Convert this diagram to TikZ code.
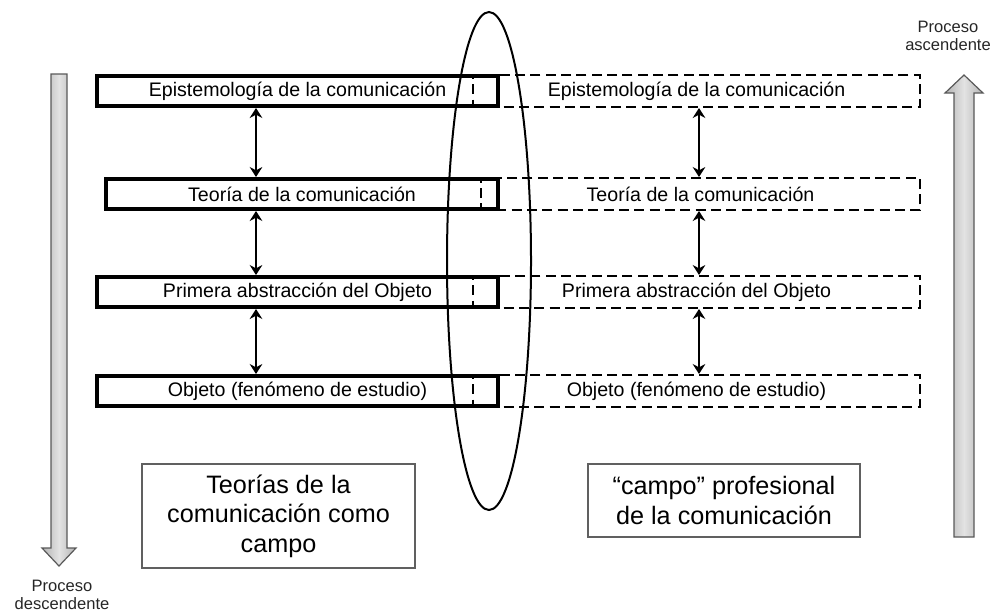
\documentclass[tikz,border=0pt]{standalone}
\usepackage{fontspec}
\setmainfont{Liberation Sans}
\usetikzlibrary{positioning, arrows.meta, calc}

\tikzset{
  solidbox/.style={draw, line width=3pt, inner sep=0pt, minimum height=22.5pt,
    font=\fontsize{14.7}{17}\selectfont},
  dashbox/.style={draw, line width=1.5pt, dash pattern=on 7.5pt off 4pt, inner sep=0pt,
    minimum height=24pt, font=\fontsize{14.7}{17}\selectfont},
  dbl/.style={{Stealth[length=7.5pt,width=9.5pt,inset=2.5pt]}-{Stealth[length=7.5pt,width=9.5pt,inset=2.5pt]},
    line width=1.6pt},
  fieldbox/.style={draw=gray!75!black, line width=0.8pt, inner sep=0pt, align=center,
    font=\fontsize{18.9}{22}\selectfont},
  grayarrow/.style={draw=gray!70!black, line width=0.9pt, left color=gray!60,
    right color=gray!60, middle color=gray!22},
  note/.style={align=center, font=\fontsize{12.4}{13.5}\selectfont, text=black!85, inner sep=0pt}
}

\begin{document}
\begin{tikzpicture}[x=0.75pt, y=-0.75pt]
    \useasboundingbox (0,0) rectangle (994,615);

    % Draw the dashed boxes (professional field)
    \node[dashbox, minimum width=335.25pt] (e2) at (696.5,91) {Epistemología de la comunicación};
    \node[dashbox, minimum width=329.25pt] (t2) at (700.5,194) {Teoría de la comunicación};
    \node[dashbox, minimum width=335.25pt] (p2) at (696.5,292) {Primera abstracción del Objeto};
    \node[dashbox, minimum width=335.25pt] (o2) at (696.5,391) {Objeto (fenómeno de estudio)};

    % Draw the solid boxes (theories)
    \node[solidbox, minimum width=300.75pt] (e1) at (297.5,91) {Epistemología de la comunicación};
    \node[solidbox, minimum width=294pt] (t1) at (302,194) {Teoría de la comunicación};
    \node[solidbox, minimum width=300.75pt] (p1) at (297.5,292) {Primera abstracción del Objeto};
    \node[solidbox, minimum width=300.75pt] (o1) at (297.5,391) {Objeto (fenómeno de estudio)};

    % Double arrows between the levels
    \coordinate (la) at (256,0);
    \coordinate (ra) at (699,0);
    \draw[dbl] (e1.south -| la) -- (t1.north -| la);
    \draw[dbl] (t1.south -| la) -- (p1.north -| la);
    \draw[dbl] (p1.south -| la) -- (o1.north -| la);
    \draw[dbl] (e2.south -| ra) -- (t2.north -| ra);
    \draw[dbl] (t2.south -| ra) -- (p2.north -| ra);
    \draw[dbl] (p2.south -| ra) -- (o2.north -| ra);

    % The ellipse across both columns
    \draw[line width=1.5pt] (489,261) ellipse [x radius=31.5pt, y radius=186.75pt];

    % Field labels
    \node[fieldbox, minimum width=204.75pt, minimum height=78pt] (tc) at (278.5,516)
        {Teorías de la\\comunicación como\\campo};
    \node[fieldbox, minimum width=204pt, minimum height=54.75pt] (cp) at (724,500.5)
        {“campo” profesional\\de la comunicación};

    % Process arrows
    \draw[grayarrow] (51,74) -- (67,74) -- (67,548) -- (76,548) -- (59,566)
        -- (42,548) -- (51,548) -- cycle;
    \draw[grayarrow] (954,537) -- (974,537) -- (974,93) -- (983,93) -- (964,75)
        -- (945,93) -- (954,93) -- cycle;
    \node[note] (pd) at (62,595) {Proceso\\descendente};
    \node[note] (pa) at (948,36) {Proceso\\ascendente};
\end{tikzpicture}
\end{document}
